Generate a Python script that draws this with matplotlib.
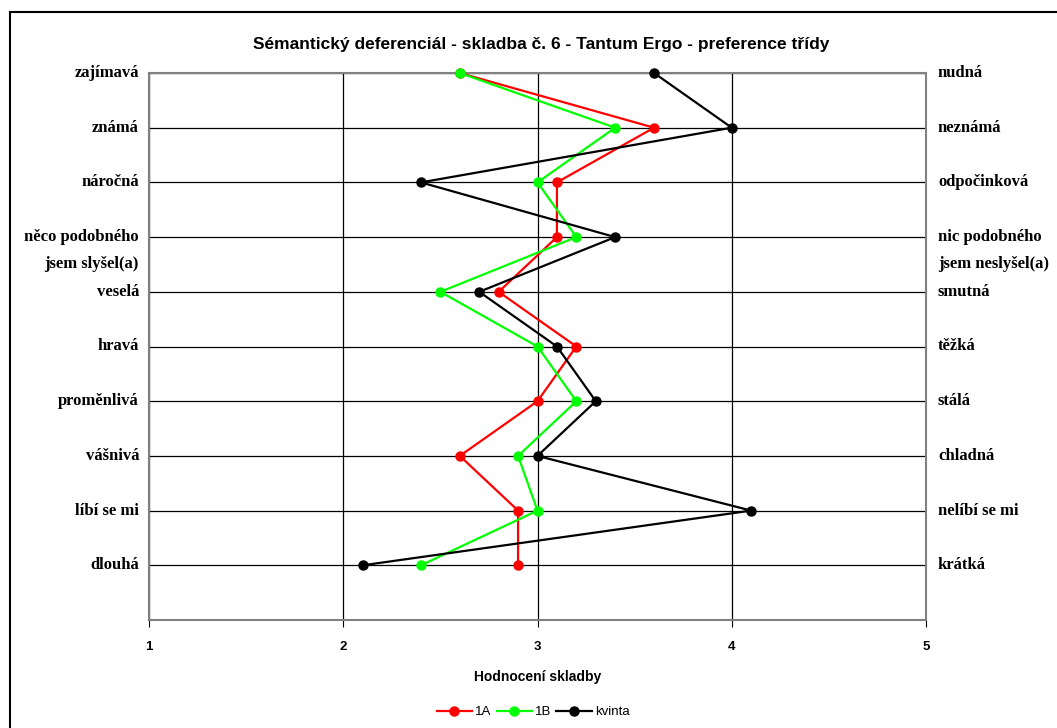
import matplotlib
matplotlib.use("Agg")
import matplotlib.pyplot as plt
import matplotlib.transforms as mtrans
from matplotlib.patches import Rectangle

left_labels = ["zajímavá", "známá", "náročná", "něco podobného\njsem slyšel(a)", "veselá",
               "hravá", "proměnlivá", "vášnivá", "líbí se mi", "dlouhá"]
right_labels = ["nudná", "neznámá", "odpočinková", "nic podobného\njsem neslyšel(a)", "smutná",
                "těžká", "stálá", "chladná", "nelíbí se mi", "krátká"]
series_names = ["1A", "1B", "kvinta"]
values_1A = [2.6, 3.6, 3.1, 3.1, 2.8, 3.2, 3.0, 2.6, 2.9, 2.9]
values_1B = [2.6, 3.4, 3.0, 3.2, 2.5, 3.0, 3.2, 2.9, 3.0, 2.4]
values_kvinta = [3.6, 4.0, 2.4, 3.4, 2.7, 3.1, 3.3, 3.0, 4.1, 2.1]
colors = ["#ff0000", "#00ff00", "#000000"]
x_ticks = [1, 2, 3, 4, 5]

W, H = 1057, 728
fig = plt.figure(figsize=(W / 100, H / 100), dpi=100)
fig.patch.set_facecolor("white")
# outer frame
fig.patches.append(Rectangle((10 / W, -0.05), 1.2, 1 - 12 / H + 0.05, transform=fig.transFigure,
                             fill=False, edgecolor="black", linewidth=1.5))

ax = fig.add_axes([149 / W, 1 - 620 / H, (926 - 149) / W, (620 - 73) / H])
rows = list(range(len(left_labels)))

for vals, name, c in zip([values_1A, values_1B, values_kvinta], series_names, colors):
    ax.plot(vals, rows, color=c, linewidth=1.6, marker="o", markersize=6.5, label=name,
            markeredgecolor=c, zorder=3, clip_on=False)

ax.set_xlim(1, 5)
ax.set_ylim(10, 0)
ax.set_xticks(x_ticks)
ax.set_yticks(rows)
ax.set_yticklabels([])
ax.tick_params(axis="y", length=0)
ax.tick_params(axis="x", direction="out", length=5, color="black", pad=10)
for lab in ax.get_xticklabels():
    lab.set_fontfamily("Liberation Sans")
    lab.set_fontweight("bold")
    lab.set_fontsize(9.5)
ax.grid(True, color="black", linewidth=0.9)
ax.set_axisbelow(True)
for s in ax.spines.values():
    s.set_color("#808080")
    s.set_linewidth(1.5)

trans = mtrans.blended_transform_factory(ax.transAxes, ax.transData)
serif = dict(family="Liberation Serif", fontweight="bold", fontsize=12)
for i, (l, r) in enumerate(zip(left_labels, right_labels)):
    for k, (ll, rr) in enumerate(zip(l.split("\n"), r.split("\n"))):
        ax.text(-10 / (926 - 149), i + 0.5 * k, ll, transform=trans, ha="right", va="center", **serif)
        ax.text(1 + 12 / (926 - 149), i + 0.5 * k, rr, transform=trans, ha="left", va="center", **serif)

fig.text(541 / W, 1 - 45 / H, "Sémantický deferenciál - skladba č. 6 - Tantum Ergo - preference třídy",
         ha="center", va="center", family="Liberation Sans", fontweight="bold", fontsize=12.5)
ax.set_xlabel("Hodnocení skladby", family="Liberation Sans", fontweight="bold", fontsize=10, labelpad=12)

fig.legend(loc="center", bbox_to_anchor=(533 / W, 1 - 712 / H), ncol=3, frameon=False,
           prop={"family": "Liberation Sans", "size": 9.5}, handlelength=2.7, handletextpad=0.2,
           columnspacing=0.4)

fig.savefig("out.png", dpi=100, facecolor="white")
